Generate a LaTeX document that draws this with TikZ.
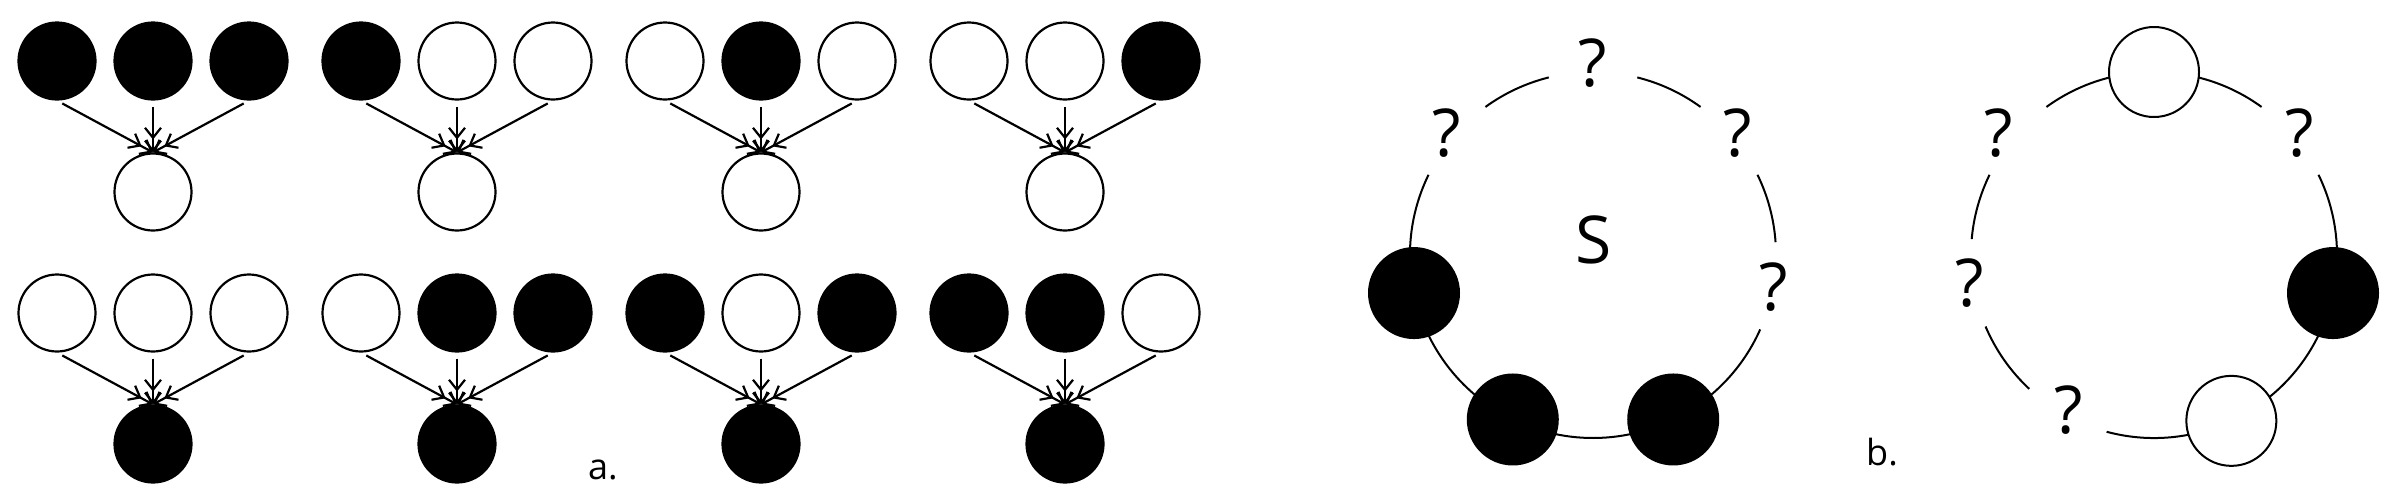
\documentclass[tikz,border=0pt]{standalone}
\usepackage{fontspec}
\setmainfont{Open Sans}
\usetikzlibrary{arrows.meta,calc}
\tikzset{
  nd/.style={circle,draw=black,line width=2.2pt,minimum size=77pt,inner sep=0pt},
  B/.style={fill=black},
  W/.style={fill=white},
  arr/.style={line width=2.2pt,-{Straight Barb[length=10pt,width=16pt,line width=2.2pt]Straight Barb[length=10pt,width=16pt,line width=2.2pt]},shorten <=6pt},
  rn/.style={circle,draw=black,line width=2pt,minimum size=90pt,inner sep=0pt},
  ring/.style={line width=2pt},
  qm/.style={font=\fontsize{66}{66}\selectfont,inner sep=0pt},
}
\begin{document}
\begin{tikzpicture}[x=1pt,y=1pt]
\useasboundingbox (0,0) rectangle (2398,-499);
% part a
\foreach \g/\gx/\a/\b/\c/\o/\ry in {
  1/0/B/B/B/W/0, 2/304/B/W/W/W/0, 3/608/W/B/W/W/0, 4/912/W/W/B/W/0,
  5/0/W/W/W/B/252, 6/304/W/B/B/B/252, 7/608/B/W/B/B/252, 8/912/B/B/W/B/252}{
  \node[nd,\a] (t\g a) at (57+\gx,-61-\ry) {};
  \node[nd,\b] (t\g b) at (153+\gx,-61-\ry) {};
  \node[nd,\c] (t\g c) at (249+\gx,-61-\ry) {};
  \node[nd,\o] (o\g) at (153+\gx,-192-\ry) {};
  \draw[arr] (t\g a.south) -- (o\g.north);
  \draw[arr] (t\g b.south) -- (o\g.north);
  \draw[arr] (t\g c.south) -- (o\g.north);
}
\node[font=\fontsize{36}{36}\selectfont] (la) at (603,-470) {a.};
% part b, left ring
\coordinate (c1) at (1593,-255);
\draw[ring] (c1) ++(104:183) arc[start angle=104,end angle=126,radius=183];
\draw[ring] (c1) ++(54:183) arc[start angle=54,end angle=76,radius=183];
\draw[ring] (c1) ++(4:183) arc[start angle=4,end angle=26,radius=183];
\draw[ring] (c1) ++(154:183) arc[start angle=154,end angle=336,radius=183];
\node[rn,B] (l1) at ($(c1)+(192:183)$) {};
\node[rn,B] (l2) at ($(c1)+(244:183)$) {};
\node[rn,B] (l3) at ($(c1)+(296:183)$) {};
\node[qm] (q1) at (1593,-63) {?};
\node[qm] (q2) at (1447,-133) {?};
\node[qm] (q3) at (1738,-133) {?};
\node[qm] (q4) at (1774,-287) {?};
\node[font=\fontsize{66}{66}\selectfont] (s) at (1594,-240) {S};
\node[font=\fontsize{36}{36}\selectfont] (lb) at (1882,-452) {b.};
% right ring
\coordinate (c2) at (2154,-255);
\draw[ring] (c2) ++(54:183) arc[start angle=54,end angle=126,radius=183];
\draw[ring] (c2) ++(154:183) arc[start angle=154,end angle=175,radius=183];
\draw[ring] (c2) ++(203:183) arc[start angle=203,end angle=227,radius=183];
\draw[ring] (c2) ++(255:183) arc[start angle=255,end angle=386,radius=183];
\node[rn,W] (r1) at ($(c2)+(90:183)$) {};
\node[rn,B] (r2) at ($(c2)+(-12:183)$) {};
\node[rn,W] (r3) at ($(c2)+(295:183)$) {};
\node[qm] (p1) at (1999,-133) {?};
\node[qm] (p2) at (2300,-133) {?};
\node[qm] (p3) at (1970,-283) {?};
\node[qm] (p4) at (2069,-410) {?};
\end{tikzpicture}
\end{document}
